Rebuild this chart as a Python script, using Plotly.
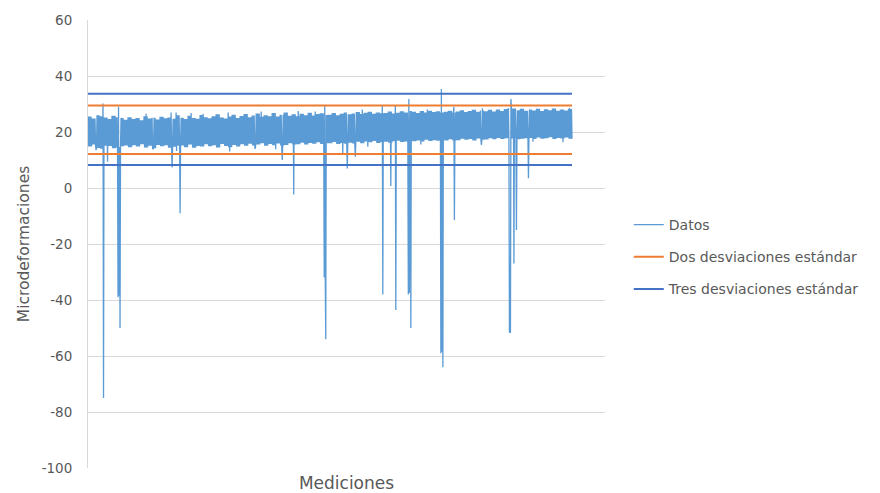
import plotly.graph_objects as go

# Upper edge of the measurement band (one reading per chart column)
upper = [
    25.5, 24.8, 26.0, 25.6, 25.2, 24.6, 25.8, 25.3, 25.0, 24.4,
    25.3, 24.6, 25.0, 24.2, 25.6, 24.8, 25.1, 24.5, 25.4, 24.9,
    25.2, 24.7, 26.0, 25.1, 24.6, 25.8, 25.0, 24.7, 26.1, 25.3,
    24.9, 25.6, 26.3, 25.2, 24.8, 25.5, 26.2, 25.0, 25.7, 26.4,
    25.3, 25.9, 26.6, 25.4, 26.0, 25.6, 26.8, 25.5, 26.2, 27.0,
    25.8, 26.3, 25.6, 26.5, 26.0, 26.9, 25.9, 26.4, 26.7, 26.1,
    26.2, 26.8, 26.0, 26.5, 27.0, 26.3, 26.6, 27.1, 26.4, 26.9,
    27.2, 26.5, 27.0, 26.7, 26.8, 27.3, 26.6, 26.9, 27.4, 27.0,
    27.5, 27.2, 26.8, 27.5, 27.0, 27.6, 27.1, 27.4, 27.0, 27.2,
    27.6, 27.0, 27.3, 27.8, 27.1, 27.5, 27.9, 27.2, 27.7, 27.4,
    27.9, 27.3, 28.0, 27.5, 28.2, 28.6, 28.4, 27.8, 28.3, 27.6,
    28.0, 27.7, 28.3, 27.5, 28.1, 27.8, 28.4, 27.6, 28.0, 27.7, 28.2,
]

# Lower edge of the measurement band (one reading per chart column)
lower = [
    14.8, 15.5, 14.3, 14.0, 15.1, 15.0, 14.2, 14.6, 14.9, 15.2,
    14.6, 15.3, 14.8, 15.6, 14.5, 15.1, 14.2, 15.4, 14.9, 15.3,
    14.4, 14.7, 15.1, 15.2, 14.6, 15.5, 14.4, 15.0, 14.8, 15.6,
    14.9, 15.3, 14.5, 15.7, 15.0, 14.6, 15.4, 14.8, 15.6, 15.1,
    15.8, 15.2, 15.5, 16.0, 15.1, 15.7, 15.3, 15.9, 15.2, 15.4,
    16.0, 15.5, 15.6, 16.2, 15.5, 16.1, 15.8, 16.3, 15.7, 16.0,
    16.0, 16.4, 15.7, 16.1, 15.8, 16.2, 15.9, 16.5, 16.0, 16.6,
    16.3, 16.8, 16.1, 16.4, 16.5, 16.2, 16.7, 16.9, 16.4, 16.6,
    16.9, 16.7, 17.0, 16.6, 17.2, 16.8, 17.1, 16.9, 17.3, 17.0,
    17.4, 17.0, 17.1, 17.6, 17.2, 17.5, 17.0, 17.7, 17.2, 17.3,
    17.8, 17.4, 17.9, 17.5, 17.8, 17.6, 17.9, 17.4, 17.6, 17.8,
    17.9, 17.5, 18.0, 17.6, 17.8, 18.1, 17.5, 17.9, 17.7, 18.0, 17.6,
]

# Isolated readings (measurement number, value): spikes and outliers
spike_index = [
    16, 30, 31, 39, 60, 61, 62, 64, 116, 130, 166, 168, 176, 177, 184, 206,
    230, 280, 283, 334, 346, 375, 388, 411, 420, 454, 472, 473, 474, 475,
    509, 518, 534, 548, 559, 588, 589, 605, 614, 615, 640, 641, 642, 645,
    665, 678, 705, 706, 707, 709, 731, 732, 786, 788, 842, 843, 844, 845,
    851, 856, 880, 889, 949, 962,
]
spike_value = [
    13.5, 30.2, -75.0, 9.4, -39.0, 29.0, -38.5, -50.0, 26.5, 13.8, 27.0, 7.3,
    27.0, 13.2, -9.0, 26.8,
    26.5, 27.0, 13.0, 14.0, 27.3, 13.8, 10.0, -2.3, 27.5, 27.3, -32.0, 29.3,
    -31.5, -54.0,
    11.8, 7.0, 11.2, 28.0, 14.7, 29.3, -38.0, 0.7, 29.3, -43.6, -38.0, 31.8,
    -37.5, -50.0,
    15.5, 28.0, -59.0, 35.4, -58.5, -64.0, 29.0, -11.4, 15.4, 28.5, -51.7,
    -51.0, -51.7, 31.8,
    -27.0, -15.0, 3.5, 16.5, 16.3, 28.6,
]

two_sd = [29.5, 12.1]     # Dos desviaciones estándar (upper, lower)
three_sd = [33.7, 8.2]    # Tres desviaciones estándar (upper, lower)

y_ticks = [60, 40, 20, 0, -20, -40, -60, -80, -100]

REPEAT = 4  # readings alternate between band edges several times per column

datos = []
for u, l in zip(upper, lower):
    for _ in range(REPEAT):
        datos.append(u)
        datos.append(l)
for i, v in zip(spike_index, spike_value):
    datos[i] = v
n = len(datos)
xs = list(range(n))

FONT = "DejaVu Sans"
GRAY = "#595959"

fig = go.Figure()
fig.add_trace(go.Scatter(
    x=xs, y=datos, mode="lines", name="Datos",
    line=dict(color="#5B9BD5", width=1.3, simplify=False), legendgroup="a"))
fig.add_trace(go.Scatter(
    x=[0, n - 1, None, 0, n - 1],
    y=[two_sd[0], two_sd[0], None, two_sd[1], two_sd[1]],
    mode="lines", name="Dos desviaciones estándar",
    line=dict(color="#ED7D31", width=2), legendgroup="b"))
fig.add_trace(go.Scatter(
    x=[0, n - 1, None, 0, n - 1],
    y=[three_sd[0], three_sd[0], None, three_sd[1], three_sd[1]],
    mode="lines", name="Tres desviaciones estándar",
    line=dict(color="#4472C4", width=2), legendgroup="c"))

x_end = (n - 1) * 517 / 484

# page body adds an 8px offset, so margins are reduced accordingly
fig.update_layout(
    width=880, height=493,
    margin=dict(l=80, r=283, t=12, b=33),
    paper_bgcolor="white", plot_bgcolor="white",
    font=dict(family=FONT, size=13, color=GRAY),
    showlegend=True,
    legend=dict(
        x=1.046, y=0.471, xanchor="left", yanchor="middle",
        font=dict(family=FONT, size=14, color=GRAY),
        traceorder="grouped", tracegroupgap=11,
        bgcolor="rgba(0,0,0,0)",
    ),
    xaxis=dict(
        range=[0, x_end], showticklabels=False, showgrid=False,
        zeroline=False, showline=False, ticks="",
        automargin=False,
        title=dict(text="Mediciones", standoff=9,
                   font=dict(family=FONT, size=17, color=GRAY)),
    ),
    yaxis=dict(
        range=[-100, 60], tickvals=y_ticks, ticktext=[str(v) for v in y_ticks],
        showgrid=True, gridcolor="#D9D9D9", gridwidth=1,
        zeroline=False, showline=True, linecolor="#D9D9D9", linewidth=1,
        ticks="", ticklabelstandoff=12,
        tickfont=dict(family=FONT, size=13.5, color=GRAY),
        title=dict(text="Microdeformaciones", standoff=8,
                   font=dict(family=FONT, size=15.5, color=GRAY)),
        automargin=False,
    ),
)

fig.write_html("out.html")
